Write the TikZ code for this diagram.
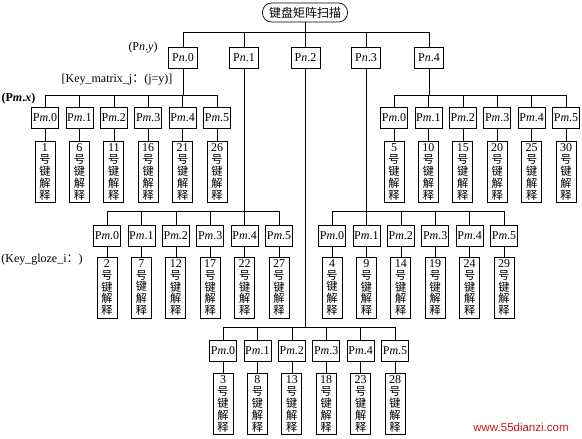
\documentclass[tikz,border=0pt]{standalone}
\usepackage{fontspec}
\setmainfont{Liberation Serif}
\newfontfamily\cjk{Noto Sans CJK SC}
\newfontfamily\wmfont{Liberation Sans}
\definecolor{wmred}{RGB}{204,20,30}
\tikzset{
  pnbox/.style={draw, line width=.6pt, minimum width=29pt, minimum height=21pt, inner sep=1.5pt},
  pmbox/.style={draw, line width=.6pt, minimum width=27pt, minimum height=21pt, inner sep=1.2pt},
  keybox/.style={draw, line width=.9pt, minimum width=20pt, minimum height=61pt, inner sep=0pt,
    align=center, font=\cjk\fontsize{11.2}{11.9}\selectfont},
}
\begin{document}
\begin{tikzpicture}[x=1pt,y=-1pt,font=\fontsize{12}{14}\selectfont,line width=.5pt]
\useasboundingbox (0,0) rectangle (582,439);
\node (top) at (305,12.5) [draw, line width=.7pt, rounded corners=9pt, minimum width=85pt, minimum height=19pt, inner sep=1pt, font=\cjk\fontsize{12}{14}\selectfont] {键盘矩阵扫描};
\foreach \j/\x in {0/183,1/244,2/305.5,3/366,4/429}
  \node (n\j) at (\x,57.5) [pnbox] {P\textit{n}.\j};
\foreach \j in {0,...,4}
  \draw (top.south) -- ++(0,9.5) -| (n\j.north);

\node (pny) at (143,48) {(P\textit{n}.\textit{y})};
\node (kmj) at (117,80) {[Key\_matrix\_j{\cjk ：}(j=y)]};
\node (pmx) at (18.5,99) {\bfseries (P\textit{m}.\textit{x})};
\node (kgi) at (42,260) {(Key\_gloze\_i{\cjk ：})};

\foreach \g/\x/\py/\ky/\by in {0/45/117.5/172/95, 1/107/236/287.5/211, 2/223/351/404/327,
    3/332/236/287.5/211, 4/394/117.5/172/95}{
  \pgfmathsetmacro{\d}{\by-68}
  \foreach \i in {0,...,5}{
    \pgfmathsetmacro{\xi}{\x+34.4*\i}
    \pgfmathtruncatemacro{\k}{\g+1+5*\i}
    \node (m\g\i) at (\xi,\py) [pmbox] {P\textit{m}.\i};
    \node (k\g\i) at (\xi,\ky) [keybox] {{\rmfamily\fontsize{12}{11.9}\selectfont\k}\\号\\键\\解\\释};
    \draw (n\g.south) -- ++(0,\d) -| (m\g\i.north);
    \draw (m\g\i) -- (k\g\i);
  }
}
\node (wm) at (521,427) [text=wmred, font=\wmfont\fontsize{11.5}{13}\selectfont] {www.55dianzi.com};
\end{tikzpicture}
\end{document}
